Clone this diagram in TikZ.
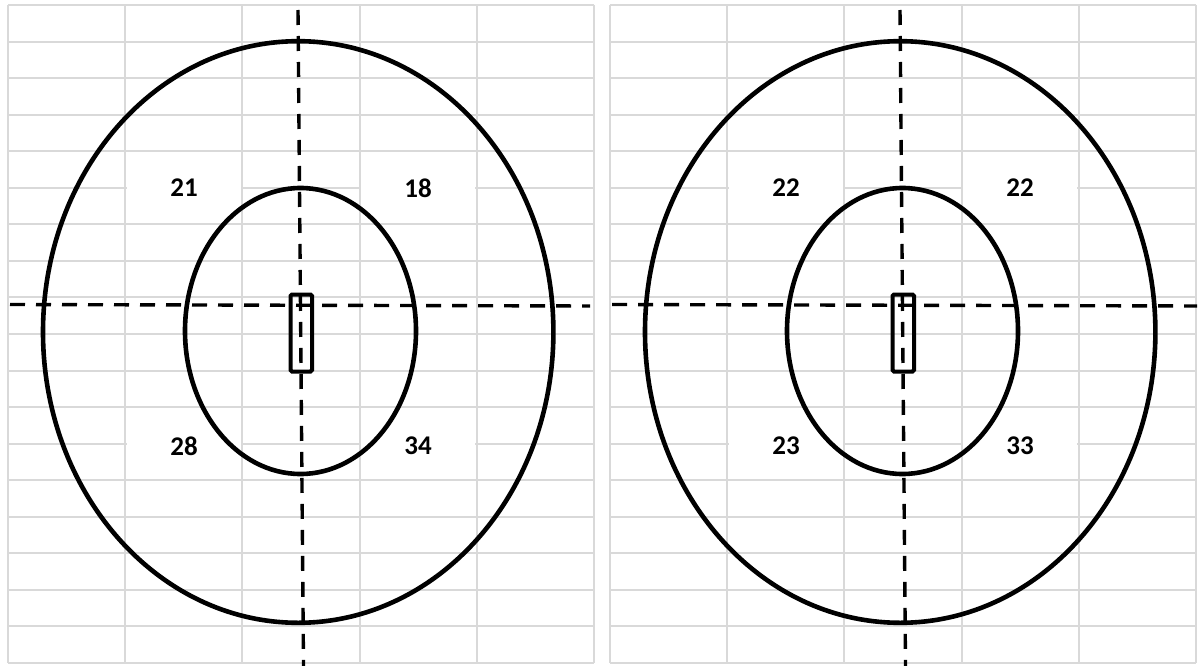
\documentclass[tikz,border=0pt]{standalone}
\usepackage{fontspec}
\setmainfont{Carlito}
\begin{document}
\begin{tikzpicture}[x=1pt,y=-1pt,
  gridline/.style={draw={rgb,255:red,217;green,217;blue,217},line width=2pt},
  ring/.style={draw=black,line width=4.6pt},
  axis/.style={draw=black,line width=3.4pt,dash pattern=on 15pt off 11pt},
  probe/.style={draw=black,line width=4pt,rounded corners=1.5pt},
  val/.style={fill=white,inner sep=0pt,minimum width=114pt,minimum height=22pt,font=\fontsize{27}{27}\bfseries\selectfont}]
\useasboundingbox (0,0) rectangle (1199,666);
\fill[white] (0,0) rectangle (1199,666);
\foreach \ox/\a/\b/\c/\d/\xe in {0/21/18/28/34/590, 602/22/22/23/33/595}{
\begin{scope}[xshift=\ox pt]
  % grid
  \foreach \i in {0,...,18} \draw[gridline] (8,{5+36.55*\i}) -- (594,{5+36.55*\i});
  \foreach \j in {0,...,5} \draw[gridline] ({8+117.2*\j},5) -- ({8+117.2*\j},663);
  % labels
  \node[val] (tl\ox) at (184,188) {\a};
  \node[val] (tr\ox) at (418,188) {\b};
  \node[val] (bl\ox) at (184,446) {\c};
  \node[val] (br\ox) at (418,446) {\d};
  % rings
  \draw[ring] (298.2,332) ellipse [x radius=255.2, y radius=290.8];
  \draw[ring] (300.5,331) ellipse [x radius=115.5, y radius=143];
  % axes
  \coordinate (vt\ox) at (298,10);
  \coordinate (vb\ox) at (303.5,666);
  \coordinate (hl\ox) at (10,304.5);
  \coordinate (hr\ox) at (\xe,306);
  \draw[axis] (vt\ox) -- (vb\ox);
  \draw[axis] (hl\ox) -- (hr\ox);
  % probe
  \draw[probe] (290.5,294.5) rectangle (312,371.5);
\end{scope}
}
\end{tikzpicture}
\end{document}
